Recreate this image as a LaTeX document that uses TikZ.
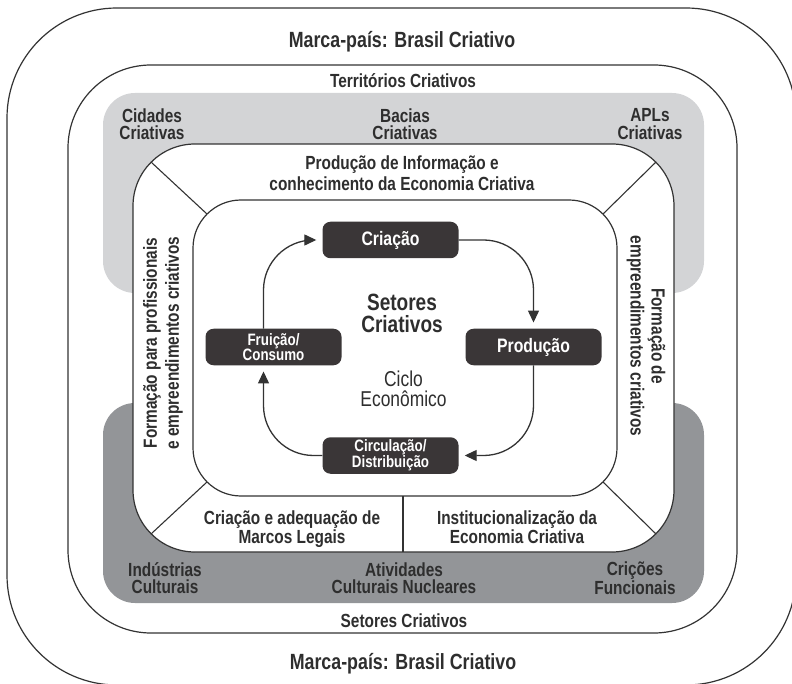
\documentclass[tikz,border=0pt]{standalone}
\usepackage{fontspec}
\setmainfont{Liberation Sans}[FakeStretch=0.81]
\usetikzlibrary{arrows.meta,calc}

\definecolor{ink}{HTML}{2E2E2E}
\definecolor{rule}{HTML}{333333}
\definecolor{lightband}{HTML}{D3D4D6}
\definecolor{darkband}{HTML}{939598}
\definecolor{boxfill}{HTML}{3A3637}

\tikzset{
  frame/.style={draw=rule, line width=1.2pt, outer sep=0pt, inner sep=0pt},
  band/.style={draw=none, outer sep=0pt, inner sep=0pt},
  lbl/.style={text=ink, align=center, inner sep=0pt,
    font=\bfseries\fontsize{19}{17.5}\selectfont},
  title/.style={text=ink, inner sep=0pt,
    font=\bfseries\fontsize{22}{24}\selectfont},
  stage/.style={fill=boxfill, text=white, rounded corners=8pt, inner sep=0pt,
    minimum width=136pt, minimum height=36.5pt, align=center,
    font=\bfseries\fontsize{19.5}{20}\selectfont},
  smallstage/.style={stage, font=\bfseries\fontsize{16.5}{15}\selectfont},
  flow/.style={draw=rule, line width=1.3pt, rounded corners=50pt,
    -{Triangle[length=12pt,width=11pt]}, shorten >=6pt},
  divider/.style={draw=rule, line width=1.1pt}
}

\begin{document}
\begin{tikzpicture}[x=1pt, y=-1pt]
  \useasboundingbox (0,0) rectangle (792,684);
  \clip (0,0) rectangle (792,684);

  % outer brand frame and territories frame
  \node[frame, minimum width=789pt, minimum height=677pt, rounded corners=110pt]
    (marca) at (401.5,346.5) {};
  \node[frame, minimum width=669pt, minimum height=568pt, rounded corners=83pt]
    (terr) at (402.5,349) {};

  % shaded bands
  \node[band, fill=lightband, minimum width=601pt, minimum height=200pt,
    rounded corners=32pt] (terrband) at (403.5,193) {};
  \node[band, fill=darkband, minimum width=601pt, minimum height=200pt,
    rounded corners=32pt] (setband) at (403.5,503) {};

  % ring of policies and central cycle area
  \node[frame, fill=white, minimum width=541pt, minimum height=408pt,
    rounded corners=62pt] (acoes) at (403.5,348) {};
  \node[frame, fill=white, minimum width=424pt, minimum height=296pt,
    rounded corners=48pt] (ciclo) at (405,348) {};

  % corner dividers between the ring sections
  \draw[divider] ($(acoes.north west)+(18.2,18.2)$) -- ($(ciclo.north west)+(14.1,14.1)$);
  \draw[divider] ($(acoes.north east)+(-18.2,18.2)$) -- ($(ciclo.north east)+(-14.1,14.1)$);
  \draw[divider] ($(acoes.south west)+(18.2,-18.2)$) -- ($(ciclo.south west)+(14.1,-14.1)$);
  \draw[divider] ($(acoes.south east)+(-18.2,-18.2)$) -- ($(ciclo.south east)+(-14.1,-14.1)$);
  \coordinate (split) at (403,0);
  \draw[divider] (split |- ciclo.south) -- (split |- acoes.south);

  % titles
  \node[title, anchor=base] (marcatop) at (402,48) {Marca-país: Brasil Criativo};
  \node[title, anchor=base] (marcabot) at (403,669) {Marca-país: Brasil Criativo};
  \node[lbl, anchor=base] (territorios) at (403,88) {Territórios Criativos};
  \node[lbl, anchor=base] (setores) at (404,627) {Setores Criativos};

  % territories
  \node[lbl] (cidades) at (152,124) {Cidades\\Criativas};
  \node[lbl] (bacias) at (405,124) {Bacias\\Criativas};
  \node[lbl] (apls) at (650,124) {APLs\\Criativas};

  % creative sectors
  \node[lbl] (industrias) at (165,578) {Indústrias\\Culturais};
  \node[lbl] (atividades) at (404,578) {Atividades\\Culturais Nucleares};
  \node[lbl] (funcionais) at (635,578) {Crições\\Funcionais};

  % policy ring
  \node[lbl, font=\bfseries\fontsize{19}{20.5}\selectfont] (informacao) at (402,173)
    {Produção de Informação e\\conhecimento da Economia Criativa};
  \node[lbl] (marcos) at (292,529) {Criação e adequação de\\Marcos Legais};
  \node[lbl] (institucional) at (517,527) {Institucionalização da\\Economia Criativa};
  \node[lbl, rotate=90, font=\bfseries\fontsize{19}{22}\selectfont] (formprof) at (163,343)
    {Formação para profissionais\\e empreendimentos criativos};
  \node[lbl, rotate=-90, font=\bfseries\fontsize{19}{21}\selectfont] (formemp) at (646,336)
    {Formação de\\empreendimentos criativos};

  % centre
  \node[lbl, font=\bfseries\fontsize{23.5}{22}\selectfont] (centro) at (402,313)
    {Setores\\Criativos};
  \node[lbl, font=\fontsize{21.5}{19.5}\selectfont] (economico) at (403.5,389)
    {Ciclo\\Econômico};

  % economic cycle
  \node[stage] (cri) at (390.5,240) {Criação};
  \node[stage] (pro) at (533.5,347) {Produção};
  \node[smallstage] (fru) at (273.5,347) {Fruição/\\Consumo};
  \node[smallstage] (cir) at (390.5,455.5) {Circulação/\\Distribuição};

  \draw[flow] (cri.east) -| (pro.north);
  \draw[flow] (pro.south) |- (cir.east);
  \draw[flow] (cir.west) -| ($(fru.south)+(-10,0)$);
  \draw[flow] ($(fru.north)+(-10,0)$) |- (cri.west);
\end{tikzpicture}
\end{document}
